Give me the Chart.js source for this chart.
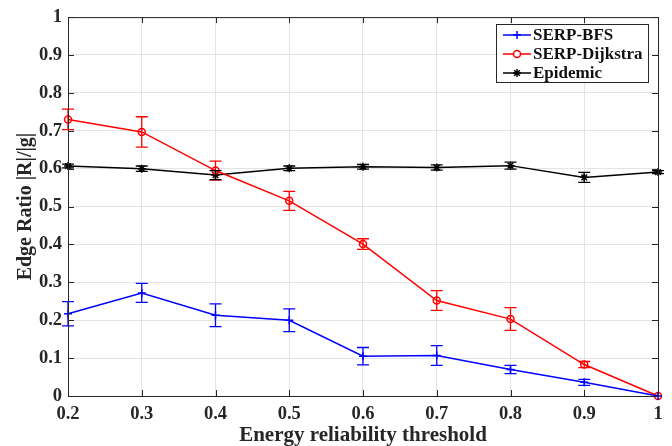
<!DOCTYPE html>
<html>
<head>
<meta charset="utf-8">
<script src="https://cdn.jsdelivr.net/npm/chart.js@4/dist/chart.umd.min.js"></script>
<style>
  html, body { margin: 0; padding: 0; background: #fff; }
  #wrap { width: 672px; height: 446px; position: relative; }
</style>
</head>
<body>
<div id="wrap"><canvas id="c" width="672" height="446"></canvas></div>
<script>
// --- data ---
const thresholds = [0.2, 0.3, 0.4, 0.5, 0.6, 0.7, 0.8, 0.9, 1.0];
const bfs      = [0.217, 0.272, 0.213, 0.200, 0.105, 0.107, 0.070, 0.036, 0.0];
const bfsErr   = [0.032, 0.025, 0.030, 0.030, 0.023, 0.026, 0.011, 0.008, 0.0];
const dijkstra = [0.730, 0.697, 0.595, 0.515, 0.401, 0.252, 0.203, 0.083, 0.0];
const dijkErr  = [0.027, 0.040, 0.025, 0.025, 0.014, 0.026, 0.030, 0.008, 0.0];
const epidemic = [0.607, 0.600, 0.583, 0.601, 0.605, 0.603, 0.608, 0.577, 0.591];
const epiErr   = [0.005, 0.007, 0.012, 0.006, 0.006, 0.007, 0.009, 0.013, 0.004];
const yTicks   = [0, 0.1, 0.2, 0.3, 0.4, 0.5, 0.6, 0.7, 0.8, 0.9, 1];

const FONT = 'Liberation Serif, Times New Roman, serif';

function pts(vals) {
  return thresholds.map((t, i) => ({ x: t, y: vals[i] }));
}

// error bars with caps
const errorBars = {
  id: 'errorBars',
  afterDatasetsDraw(chart) {
    const { ctx, scales: { x, y } } = chart;
    chart.data.datasets.forEach(ds => {
      ctx.save();
      ctx.strokeStyle = ds.borderColor;
      ctx.lineWidth = 1.3;
      ds.data.forEach((p, j) => {
        const e = ds.errors[j];
        if (!e) return;
        const px = x.getPixelForValue(p.x);
        const top = y.getPixelForValue(p.y + e);
        const bot = y.getPixelForValue(p.y - e);
        ctx.beginPath();
        ctx.moveTo(px, top); ctx.lineTo(px, bot);
        ctx.moveTo(px - 6, top); ctx.lineTo(px + 6, top);
        ctx.moveTo(px - 6, bot); ctx.lineTo(px + 6, bot);
        ctx.stroke();
      });
      ctx.restore();
    });
  }
};

// MATLAB-ish box: frame + inward ticks + legend
const boxAndLegend = {
  id: 'boxAndLegend',
  afterDraw(chart) {
    const { ctx, chartArea: a, scales: { x, y } } = chart;
    ctx.save();
    ctx.strokeStyle = '#262626';
    ctx.lineWidth = 1;
    ctx.strokeRect(a.left + 0.5, a.top + 0.5, a.right - a.left, a.bottom - a.top);
    ctx.beginPath();
    x.ticks.forEach(t => {
      const px = Math.round(x.getPixelForValue(t.value)) + 0.5;
      ctx.moveTo(px, a.bottom); ctx.lineTo(px, a.bottom - 6);
      ctx.moveTo(px, a.top); ctx.lineTo(px, a.top + 6);
    });
    y.ticks.forEach(t => {
      const py = Math.round(y.getPixelForValue(t.value)) + 0.5;
      ctx.moveTo(a.left, py); ctx.lineTo(a.left + 6, py);
      ctx.moveTo(a.right, py); ctx.lineTo(a.right - 6, py);
    });
    ctx.stroke();

    // legend
    const lx = 496, ly = 24, lw = 152, lh = 58;
    ctx.fillStyle = '#fff';
    ctx.fillRect(lx, ly, lw, lh);
    ctx.strokeStyle = '#262626';
    ctx.strokeRect(lx + 0.5, ly + 0.5, lw, lh);
    ctx.font = 'bold 17px ' + FONT;
    ctx.textBaseline = 'middle';
    chart.data.datasets.forEach((ds, i) => {
      const cy = ly + 11 + i * 19;
      ctx.strokeStyle = ds.borderColor;
      ctx.lineWidth = 1.5;
      ctx.beginPath();
      ctx.moveTo(lx + 7, cy); ctx.lineTo(lx + 35, cy);
      ctx.stroke();
      ctx.fillStyle = '#fff';
      Chart.helpers.drawPoint(ctx, {
        pointStyle: ds.pointStyle, radius: ds.pointRadius, borderWidth: 1.5
      }, lx + 21, cy);
      ctx.fillStyle = '#111';
      ctx.fillText(ds.label, lx + 37, cy + 1);
    });
    ctx.restore();
  }
};

const common = { borderWidth: 1.5, pointBorderWidth: 1.5, backgroundColor: 'rgba(0,0,0,0)',
                 pointBackgroundColor: 'rgba(0,0,0,0)', tension: 0, clip: false };

new Chart(document.getElementById('c'), {
  type: 'line',
  data: {
    datasets: [
      { ...common, label: 'SERP-BFS', data: pts(bfs), errors: bfsErr,
        borderColor: '#0000ff', pointBorderColor: '#0000ff', pointStyle: 'cross', pointRadius: 4 },
      { ...common, label: 'SERP-Dijkstra', data: pts(dijkstra), errors: dijkErr,
        borderColor: '#ff0000', pointBorderColor: '#ff0000', pointStyle: 'circle', pointRadius: 3.5 },
      { ...common, label: 'Epidemic', data: pts(epidemic), errors: epiErr,
        borderColor: '#000000', pointBorderColor: '#000000', pointStyle: 'star', pointRadius: 4 }
    ]
  },
  options: {
    responsive: false,
    animation: false,
    layout: { padding: { left: 0, right: 14, top: 15, bottom: 0 } },
    plugins: { legend: { display: false }, tooltip: { enabled: false } },
    scales: {
      x: {
        type: 'linear', min: 0.2, max: 1,
        afterFit: s => { s.height = 50; },
        ticks: { stepSize: 0.1, padding: 7, color: '#262626',
                 font: { family: FONT, size: 18.5, weight: 'bold' },
                 callback: v => String(+v.toFixed(1)) },
        grid: { color: '#e4e4e4', drawTicks: false },
        border: { display: false },
        title: { display: true, text: 'Energy reliability threshold', color: '#262626',
                 padding: { top: 0, bottom: -2 },
                 font: { family: FONT, size: 21, weight: 'bold' } }
      },
      y: {
        type: 'linear', min: 0, max: 1,
        afterFit: s => { s.width = 68; },
        afterBuildTicks: s => { s.ticks = yTicks.map(v => ({ value: v })); },
        ticks: { padding: 6, color: '#262626',
                 font: { family: FONT, size: 18.5, weight: 'bold' },
                 callback: v => String(+v.toFixed(1)) },
        grid: { color: '#e4e4e4', drawTicks: false },
        border: { display: false },
        title: { display: true, text: 'Edge Ratio |R|/|g|', color: '#262626',
                 padding: { top: 14, bottom: 0 },
                 font: { family: FONT, size: 20, weight: 'bold' } }
      }
    }
  },
  plugins: [errorBars, boxAndLegend]
});
</script>
</body>
</html>
